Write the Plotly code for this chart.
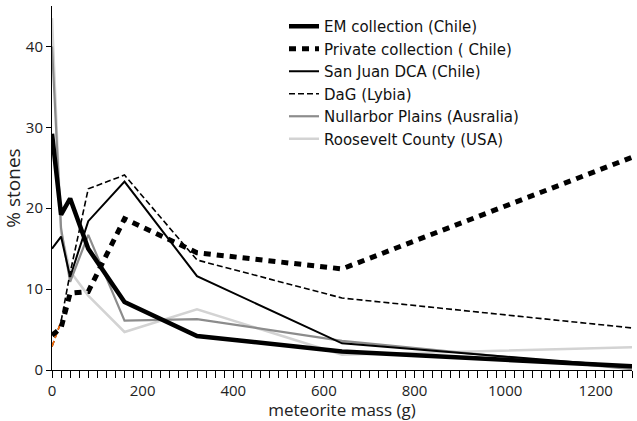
import plotly.graph_objects as go

mass = [0, 20, 40, 80, 160, 320, 640, 1280]

em_collection = [29.2, 19.2, 21.2, 15.0, 8.4, 4.2, 2.3, 0.45]
private_collection = [4.3, 5.2, 9.5, 9.7, 18.7, 14.5, 12.5, 26.3]
san_juan = [15.0, 16.5, 11.5, 18.4, 23.3, 11.6, 3.3, 0.4]
dag = [2.9, 6.0, 12.0, 22.4, 24.1, 13.6, 8.9, 5.2]
nullarbor = [40.0, 17.5, 10.9, 16.7, 6.1, 6.3, 3.6, 0.1]
roosevelt = [43.5, 17.0, 12.2, 9.2, 4.7, 7.5, 1.9, 2.8]

dag_first_mass = [0, 20]
dag_first = [2.9, 6.0]

fig = go.Figure()

fig.add_trace(go.Scatter(x=mass, y=roosevelt, mode="lines", name="Roosevelt County (USA)",
                         line=dict(color="#d3d3d3", width=2.5), legendrank=6))
fig.add_trace(go.Scatter(x=mass, y=nullarbor, mode="lines", name="Nullarbor Plains (Ausralia)",
                         line=dict(color="#8c8c8c", width=2.2), legendrank=5))
fig.add_trace(go.Scatter(x=mass, y=dag, mode="lines", name="DaG (Lybia)",
                         line=dict(color="black", width=1.6, dash="6px,3px"), legendrank=4))
fig.add_trace(go.Scatter(x=dag_first_mass, y=dag_first, mode="lines", showlegend=False,
                         line=dict(color="#ff6a00", width=1.6, dash="6px,3px")))
fig.add_trace(go.Scatter(x=mass, y=san_juan, mode="lines", name="San Juan DCA (Chile)",
                         line=dict(color="black", width=2), legendrank=3))
fig.add_trace(go.Scatter(x=mass, y=private_collection, mode="lines", name="Private collection ( Chile)",
                         line=dict(color="black", width=5, dash="7px,6px"), legendrank=2))
fig.add_trace(go.Scatter(x=mass, y=em_collection, mode="lines", name="EM collection (Chile)",
                         line=dict(color="black", width=4.5), legendrank=1))

fig.update_layout(
    width=637, height=421,
    margin=dict(l=52, r=5, t=6, b=51),
    paper_bgcolor="white", plot_bgcolor="white",
    font=dict(family="Open Sans, sans-serif", size=15, color="#222"),
    showlegend=True,
    legend=dict(x=0.40, y=0.989, xanchor="left", yanchor="top",
                font=dict(family="DejaVu Sans, sans-serif", size=15, color="#111"),
                bgcolor="rgba(0,0,0,0)", tracegroupgap=0),
    xaxis=dict(range=[0, 1280], showgrid=False, zeroline=False, automargin=True,
               showline=True, linecolor="black", linewidth=1,
               ticks="outside", ticklen=7, tickcolor="black", dtick=200, tick0=0,
               minor=dict(ticks="outside", ticklen=7, dtick=20, tickcolor="black"),
               tickfont=dict(size=15),
               title=dict(text="meteorite mass (g)", font=dict(size=17), standoff=5)),
    yaxis=dict(range=[0, 45], showgrid=False, zeroline=False, automargin=False,
               showline=True, linecolor="black", linewidth=1,
               ticks="outside", ticklen=5, tickcolor="black", dtick=10,
               tickfont=dict(size=15),
               title=dict(text="% stones", font=dict(size=19), standoff=2)),
)

fig.write_html("out.html", config={"displayModeBar": False},
               post_script="document.body.style.margin='0';document.body.style.padding='0';")
